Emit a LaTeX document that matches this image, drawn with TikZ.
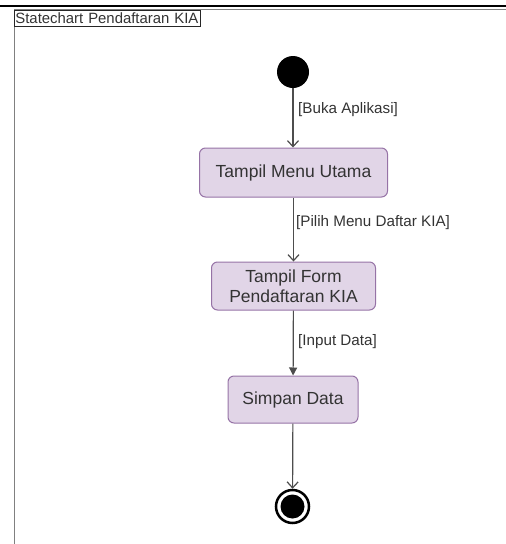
\documentclass[tikz,border=0pt]{standalone}
\usepackage{fontspec}
\setmainfont{Liberation Sans}
\usetikzlibrary{arrows.meta}
\definecolor{boxfill}{HTML}{E1D5E7}
\definecolor{boxdraw}{HTML}{9673A6}
\definecolor{txt}{HTML}{333333}
\definecolor{edge}{HTML}{4D4D4D}
\definecolor{frame}{HTML}{808080}
\begin{document}
\begin{tikzpicture}[x=1pt,y=-1pt,
  state/.style={draw=boxdraw, fill=boxfill, rounded corners=6pt, line width=1pt, text=txt,
    font=\fontsize{17.5}{20}\selectfont, align=center, inner sep=0pt},
  guard/.style={font=\fontsize{15.2}{17}\selectfont, text=txt, anchor=west, inner sep=0pt},
  flow/.style={draw=edge, line width=1.2pt, -{Straight Barb[length=6pt,width=11pt,line width=1.2pt]}},
  flowfill/.style={draw=edge, line width=1.2pt, -{Triangle[length=8pt,width=8pt]}},
]
\useasboundingbox (0,0) rectangle (506,544);
\draw[line width=2pt] (0,5.5) -- (506,5.5);
\draw[frame, line width=1pt] (14,9.5) -- (506,9.5);
\draw[frame, line width=1pt] (14,9.5) -- (14,544);
\node[draw=black!85, line width=0.8pt, anchor=north west, text width=184pt, minimum height=16pt,
  inner xsep=1pt, inner ysep=1pt, align=left, font=\fontsize{14.9}{16}\selectfont, text=txt] (title) at (14,9.5) {Statechart Pendaftaran KIA};

\node[circle, fill=black, minimum size=32pt, inner sep=0pt] (init) at (293,72) {};
\node[state, minimum width=188pt, minimum height=49pt] (s1) at (293.5,172.5) {Tampil Menu Utama};
\node[state, minimum width=164pt, minimum height=48pt] (s2) at (293.5,286) {Tampil Form\\Pendaftaran KIA};
\node[state, minimum width=130pt, minimum height=47pt] (s3) at (293,399.5) {Simpan Data};
\node[circle, draw=black, line width=2.5pt, fill=white, minimum size=33pt, inner sep=0pt] (fin) at (292.5,506.5) {};
\node[circle, fill=black, minimum size=24pt, inner sep=0pt] (finc) at (fin.center) {};

\draw[flow] (init) -- (s1.north -| init);
\draw[flow] (s1) -- (s2);
\draw[flowfill] (s2) -- (s3);
\draw[flow] (s3) -- (fin);

\node[guard] (g1) at (298,110) {[Buka Aplikasi]};
\node[guard] (g2) at (296,223) {[Pilih Menu Daftar KIA]};
\node[guard] (g3) at (298,341.5) {[Input Data]};
\end{tikzpicture}
\end{document}
